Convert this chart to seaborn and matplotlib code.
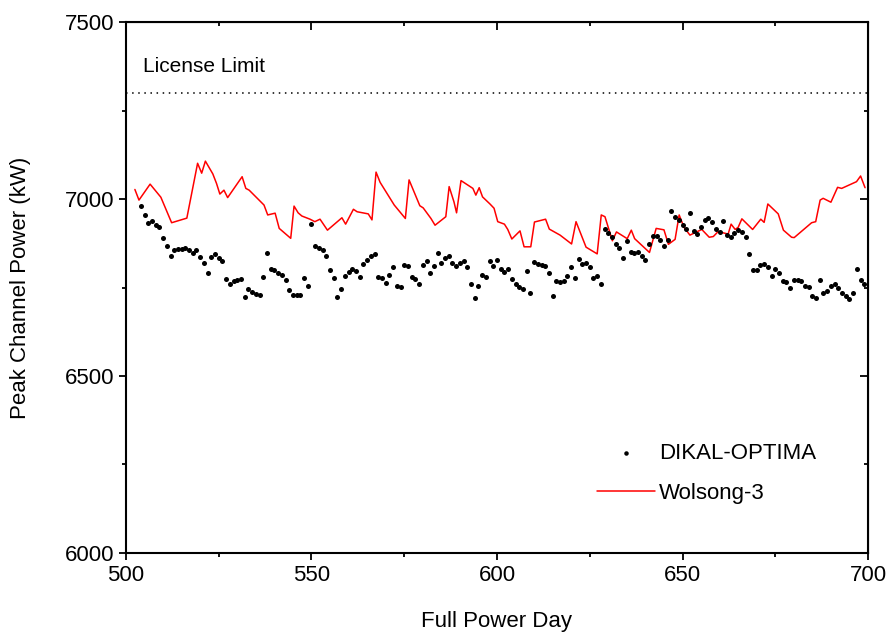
import matplotlib
matplotlib.use("Agg")
import matplotlib.pyplot as plt
import seaborn as sns
import pandas as pd
import numpy as np
from matplotlib.ticker import MultipleLocator

# DIKAL-OPTIMA: one point per full power day
dikal_days = list(range(504, 700))
dikal_power = [
    6981, 6956, 6933, 6938, 6927, 6922, 6889, 6866, 6840, 6856,
    6858, 6859, 6862, 6856, 6848, 6856, 6837, 6820, 6792, 6835,
    6844, 6834, 6826, 6773, 6760, 6767, 6770, 6773, 6724, 6745,
    6737, 6732, 6730, 6780, 6847, 6802, 6799, 6792, 6785, 6771,
    6743, 6729, 6729, 6730, 6778, 6755, 6929, 6867, 6861, 6855,
    6838, 6800, 6778, 6723, 6745, 6783, 6795, 6802, 6796, 6779,
    6816, 6829, 6839, 6845, 6780, 6778, 6762, 6786, 6808, 6753,
    6751, 6814, 6812, 6780, 6773, 6760, 6813, 6825, 6791, 6811,
    6847, 6819, 6832, 6840, 6818, 6810, 6820, 6825, 6808, 6761,
    6721, 6754, 6785, 6780, 6825, 6810, 6828, 6802, 6794, 6802,
    6773, 6759, 6751, 6746, 6797, 6734, 6821, 6816, 6814, 6811,
    6791, 6727, 6768, 6766, 6767, 6782, 6809, 6778, 6830, 6816,
    6818, 6807, 6778, 6783, 6759, 6916, 6903, 6894, 6874, 6861,
    6834, 6881, 6850, 6847, 6851, 6838, 6829, 6874, 6895, 6895,
    6885, 6868, 6884, 6966, 6948, 6941, 6927, 6915, 6960, 6910,
    6901, 6920, 6941, 6946, 6935, 6914, 6908, 6937, 6898, 6892,
    6903, 6912, 6907, 6894, 6845, 6799, 6800, 6814, 6816, 6808,
    6782, 6802, 6792, 6768, 6765, 6748, 6771, 6770, 6768, 6754,
    6752, 6726, 6721, 6771, 6734, 6739, 6755, 6760, 6748, 6734,
    6725, 6717, 6734, 6801, 6772, 6760,
]

# Wolsong-3 measured
wolsong_days = [
    502.4, 503.5, 506.5, 509.4, 512.3, 516.4, 519.3, 520.4, 521.4, 523.4,
    524.4, 525.3, 526.4, 527.4, 531.3, 532.3, 533.2, 537.2, 538.2, 540.2,
    541.3, 544.4, 545.3, 546.4, 547.4, 549.6, 550.9, 552.3, 554.3, 558.2,
    559.2, 561.3, 562.3, 565.3, 566.3, 567.4, 568.5, 572.3, 575.3, 576.3,
    579.2, 580.1, 582.2, 583.3, 586.2, 587.1, 588.4, 589.1, 590.3, 593.5,
    594.3, 595.2, 596.1, 598.1, 599.2, 600.2, 602.0, 602.9, 604.0, 606.2,
    607.3, 609.1, 610.1, 613.1, 614.1, 617.0, 620.1, 621.3, 624.0, 627.0,
    628.1, 629.1, 631.1, 632.2, 635.1, 636.2, 637.1, 641.1, 642.9, 645.0,
    646.2, 648.0, 649.1, 650.4, 652.0, 655.2, 657.2, 658.3, 659.6, 662.3,
    663.1, 664.2, 665.0, 666.0, 668.9, 671.1, 672.0, 673.0, 675.8, 677.2,
    679.4, 680.1, 684.8, 685.9, 687.1, 687.9, 690.0, 691.8, 692.9, 696.9,
    698.0, 699.2,
]
wolsong_power = [
    7027, 6997, 7042, 7005, 6933, 6946, 7101, 7073, 7107, 7071,
    7044, 7014, 7025, 7004, 7063, 7030, 7025, 6983, 6955, 6960,
    6917, 6889, 6980, 6961, 6952, 6943, 6936, 6943, 6912, 6947,
    6929, 6971, 6964, 6958, 6941, 7076, 7047, 6983, 6945, 7054,
    6981, 6975, 6945, 6926, 6950, 7035, 6992, 6961, 7052, 7030,
    7011, 7032, 7006, 6986, 6974, 6936, 6929, 6914, 6887, 6910,
    6865, 6865, 6935, 6943, 6915, 6898, 6873, 6936, 6864, 6845,
    6955, 6950, 6882, 6907, 6888, 6912, 6888, 6849, 6917, 6913,
    6872, 6886, 6955, 6920, 6898, 6914, 6892, 6894, 6908, 6901,
    6929, 6914, 6920, 6944, 6914, 6943, 6934, 6986, 6958, 6912,
    6892, 6891, 6933, 6936, 6997, 7002, 6991, 7033, 7030, 7049,
    7065, 7032,
]

license_limit = 7300

dikal = pd.DataFrame({"day": dikal_days, "power": dikal_power})
wolsong = pd.DataFrame({"day": wolsong_days, "power": wolsong_power})

sns.set_style("ticks", {"axes.edgecolor": "black", "text.color": "black",
                        "axes.labelcolor": "black", "xtick.color": "black",
                        "ytick.color": "black"})
plt.rcParams["font.family"] = ["Liberation Sans", "DejaVu Sans"]

fig, ax = plt.subplots(figsize=(8.91, 6.33), dpi=100)
fig.subplots_adjust(left=0.1414, right=0.9742, top=0.9652, bottom=0.1264)

# Licence limit line
ax.axhline(license_limit, color="black", linestyle=(0, (1, 3)), linewidth=1.1)
ax.text(504.6, 7373, "License Limit", fontsize=15, va="center", ha="left",
        color="black")

sns.scatterplot(data=dikal, x="day", y="power", ax=ax, color="black",
                s=13, linewidth=0, label="DIKAL-OPTIMA", zorder=3)
sns.lineplot(data=wolsong, x="day", y="power", ax=ax, color="red",
             linewidth=1.1, sort=False, estimator=None, label="Wolsong-3")

ax.set_xlim(500, 700)
ax.set_ylim(6000, 7500)
ax.xaxis.set_major_locator(MultipleLocator(50))
ax.xaxis.set_minor_locator(MultipleLocator(25))
ax.yaxis.set_major_locator(MultipleLocator(500))
ax.yaxis.set_minor_locator(MultipleLocator(250))

ax.set_xlabel("Full Power Day", fontsize=16, labelpad=18, color="black")
ax.set_ylabel("Peak Channel Power (kW)", fontsize=16, labelpad=24, color="black")

for sp in ax.spines.values():
    sp.set_visible(True)
    sp.set_linewidth(1.5)
    sp.set_color("black")

ax.tick_params(axis="both", which="major", labelsize=16, width=1.3, length=5,
               direction="out", top=False, right=False, colors="black")
ax.tick_params(axis="both", which="minor", width=1.3, length=3,
               direction="out", top=False, right=False, colors="black")

# inward ticks on the top and right edges
axt = ax.secondary_xaxis("top")
axt.xaxis.set_major_locator(MultipleLocator(50))
axt.xaxis.set_minor_locator(MultipleLocator(25))
axt.tick_params(which="major", direction="in", length=6, width=1.3, labeltop=False,
                colors="black")
axt.tick_params(which="minor", direction="in", length=3, width=1.3, colors="black")
axr = ax.secondary_yaxis("right")
axr.yaxis.set_major_locator(MultipleLocator(500))
axr.yaxis.set_minor_locator(MultipleLocator(250))
axr.tick_params(which="major", direction="in", length=6, width=1.3, labelright=False,
                colors="black")
axr.tick_params(which="minor", direction="in", length=3, width=1.3, colors="black")

leg = ax.legend(loc="upper left", bbox_to_anchor=(0.635, 0.207), frameon=False,
                fontsize=16, handlelength=2.6, handletextpad=0.2,
                labelspacing=0.85, borderpad=0, borderaxespad=0, markerscale=0.9)
for t in leg.get_texts():
    t.set_color("black")

fig.savefig("out.png", dpi=100)
